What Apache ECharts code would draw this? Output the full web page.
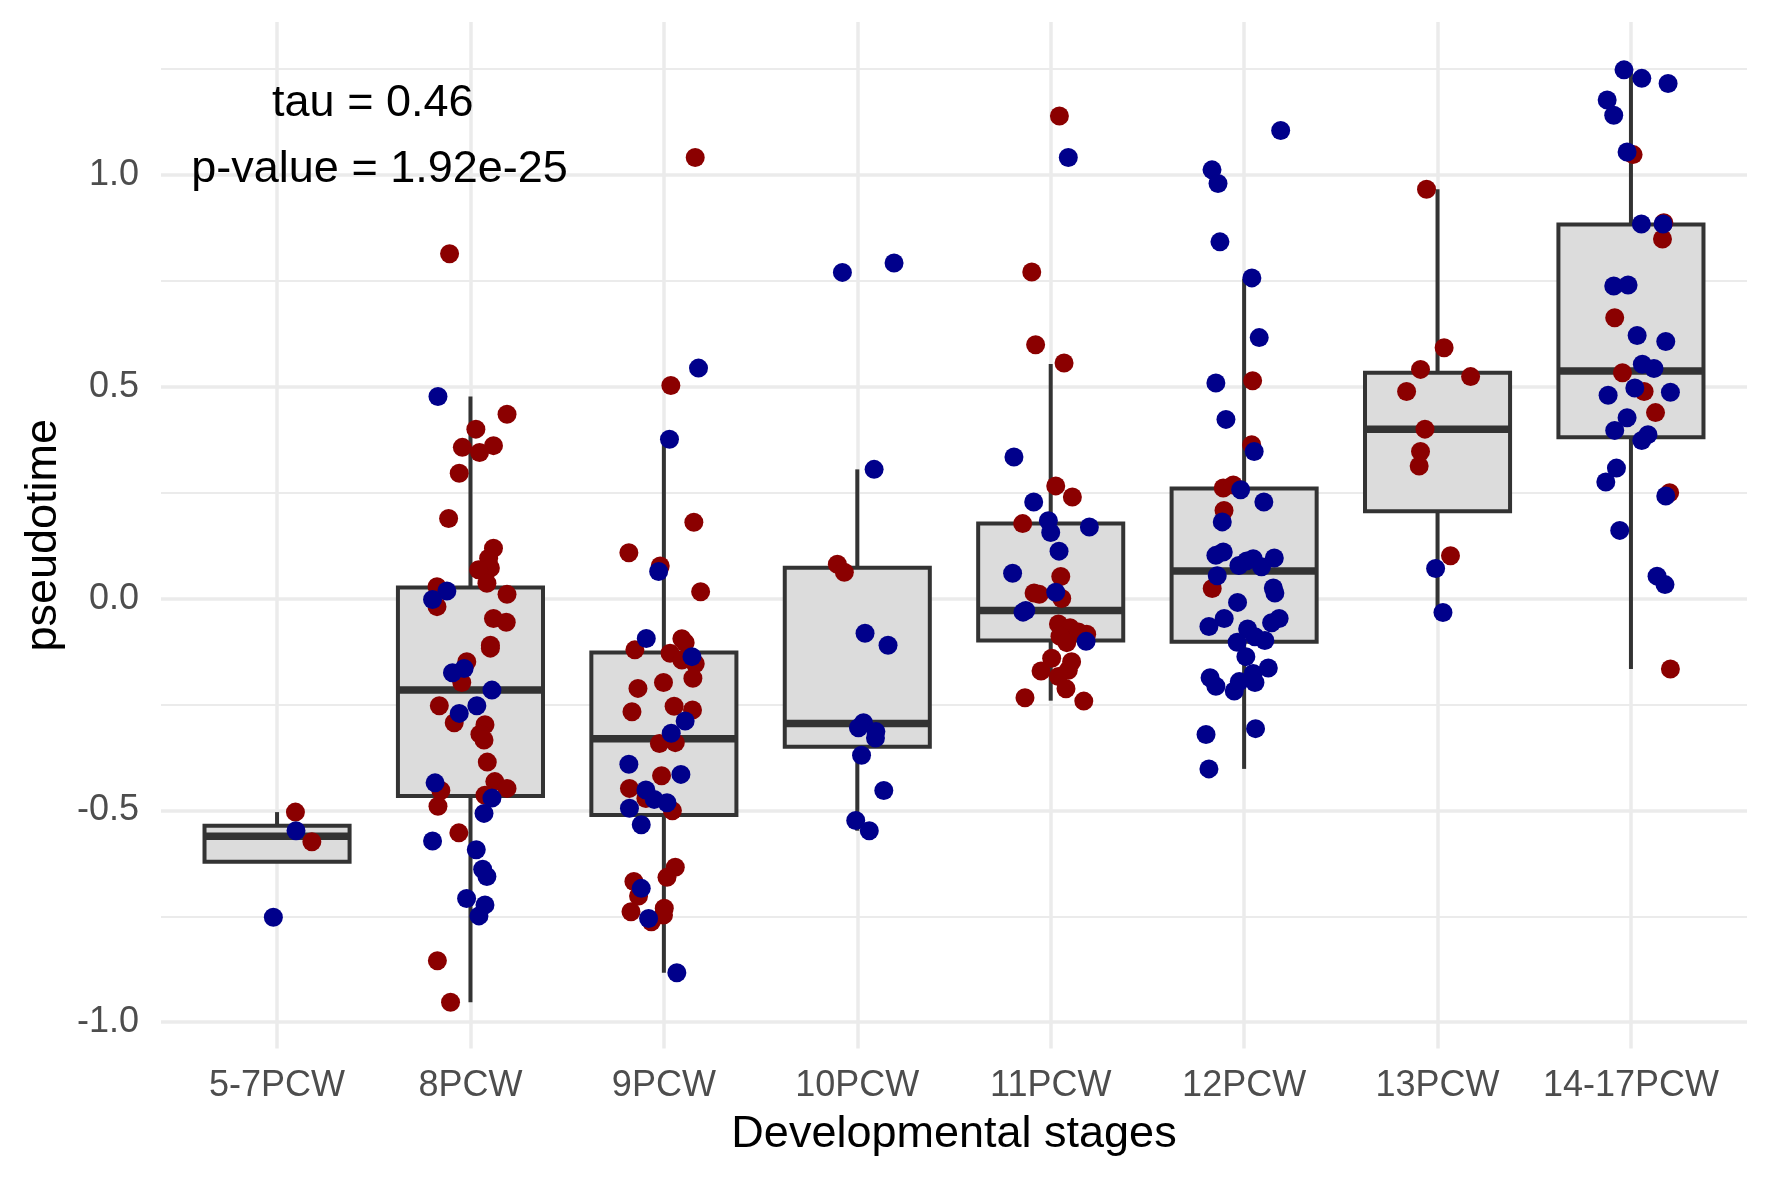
<!DOCTYPE html>
<html>
<head>
<meta charset="utf-8">
<script src="https://cdn.jsdelivr.net/npm/echarts@6/dist/echarts.min.js"></script>
<style>
  html, body { margin: 0; padding: 0; background: #fff; }
  #chart { width: 1771px; height: 1181px; }
</style>
</head>
<body>
<div id="chart"></div>
<script>
// stages on the x axis
const categories = ['5-7PCW', '8PCW', '9PCW', '10PCW', '11PCW', '12PCW', '13PCW', '14-17PCW'];

// box stats
const whiskerLow = [-0.621, -0.953, -0.883, -0.548, -0.241, -0.402, -0.033, -0.166];
const boxQ1 = [-0.621, -0.466, -0.511, -0.350, -0.099, -0.102, 0.206, 0.381];
const boxMedian = [-0.561, -0.216, -0.331, -0.295, -0.028, 0.065, 0.400, 0.537];
const boxQ3 = [-0.536, 0.026, -0.127, 0.073, 0.177, 0.260, 0.533, 0.883];
const whiskerHigh = [-0.504, 0.477, 0.376, 0.305, 0.554, 0.755, 0.966, 1.245];

// jittered points: [stage index + jitter, pseudotime]
const redPoints = [
  [0.095, -0.504], [0.18, -0.574],
  [0.892, 0.814], [1.189, 0.435], [1.028, 0.400], [0.958, 0.357], [1.047, 0.345], [1.119, 0.361],
  [0.942, 0.296], [0.887, 0.189], [1.119, 0.119], [1.094, 0.095], [1.103, 0.072], [1.042, 0.068],
  [1.085, 0.036], [0.827, 0.028], [1.189, 0.010], [0.827, -0.019], [1.119, -0.047], [1.185, -0.056],
  [1.103, -0.110], [1.103, -0.117], [0.981, -0.149], [0.955, -0.198], [0.839, -0.253], [0.916, -0.293],
  [1.075, -0.298], [1.049, -0.320], [1.07, -0.334], [1.087, -0.386], [0.847, -0.453], [1.126, -0.432],
  [1.189, -0.448], [1.075, -0.464], [0.832, -0.490], [0.94, -0.553], [0.829, -0.855], [0.897, -0.953],
  [2.162, 1.041], [2.036, 0.503], [2.155, 0.180], [1.819, 0.108], [1.981, 0.077], [2.19, 0.016],
  [1.85, -0.121], [2.093, -0.095], [2.11, -0.104], [2.032, -0.129], [2.093, -0.145], [2.162, -0.154],
  [2.15, -0.188], [1.998, -0.198], [1.866, -0.212], [2.053, -0.254], [1.835, -0.267], [2.148, -0.263],
  [1.977, -0.342], [2.059, -0.340], [1.988, -0.418], [1.822, -0.448], [1.907, -0.472], [2.044, -0.501],
  [2.059, -0.634], [2.016, -0.658], [1.845, -0.668], [1.869, -0.702], [1.83, -0.739], [2.002, -0.731],
  [1.998, -0.747], [1.935, -0.763],
  [2.897, 0.081], [2.933, 0.062],
  [4.045, 1.139], [3.902, 0.771], [3.922, 0.599], [4.069, 0.556], [4.026, 0.266], [4.112, 0.240],
  [3.855, 0.177], [4.052, 0.052], [3.914, 0.013], [3.941, 0.010], [4.057, 0.0], [4.04, -0.060],
  [4.1, -0.069], [4.143, -0.079], [4.186, -0.084], [4.048, -0.089], [4.083, -0.104], [4.005, -0.141],
  [4.108, -0.149], [3.95, -0.171], [4.091, -0.169], [4.04, -0.184], [4.079, -0.213], [3.867, -0.234],
  [4.171, -0.242],
  [5.044, 0.514], [5.039, 0.363], [4.892, 0.261], [4.944, 0.268], [4.896, 0.208], [4.835, 0.024],
  [5.943, 0.966], [6.034, 0.592], [5.912, 0.541], [6.171, 0.524], [5.84, 0.489], [5.935, 0.400],
  [5.912, 0.347], [5.905, 0.313], [6.067, 0.101],
  [7.011, 1.048], [7.17, 0.887], [7.163, 0.849], [6.916, 0.663], [6.956, 0.533], [7.068, 0.489],
  [7.127, 0.439], [7.2, 0.250], [7.204, -0.166]
];

const bluePoints = [
  [0.098, -0.548], [-0.019, -0.752],
  [0.832, 0.477], [0.878, 0.018], [0.804, -0.002], [0.907, -0.175], [0.967, -0.165], [1.111, -0.216],
  [1.033, -0.253], [0.942, -0.271], [0.817, -0.435], [1.111, -0.471], [1.07, -0.507], [0.804, -0.572],
  [1.03, -0.593], [1.063, -0.639], [1.085, -0.656], [0.98, -0.708], [1.075, -0.723], [1.044, -0.749],
  [2.179, 0.544], [2.029, 0.376], [1.973, 0.064], [1.909, -0.094], [2.145, -0.137], [2.11, -0.289],
  [2.038, -0.318], [1.819, -0.391], [2.088, -0.415], [1.907, -0.452], [1.95, -0.474], [2.016, -0.482],
  [1.822, -0.495], [1.883, -0.534], [1.883, -0.684], [1.921, -0.755], [2.067, -0.883],
  [2.923, 0.770], [3.19, 0.792], [3.087, 0.305], [3.04, -0.082], [3.159, -0.110], [3.032, -0.293],
  [3.006, -0.305], [3.096, -0.314], [3.094, -0.329], [3.022, -0.370], [3.137, -0.453], [2.992, -0.524],
  [3.062, -0.548],
  [4.091, 1.041], [3.81, 0.334], [3.912, 0.228], [3.988, 0.184], [4.0, 0.156], [4.2, 0.169],
  [4.043, 0.112], [3.803, 0.060], [4.026, 0.015], [3.871, -0.028], [3.857, -0.032], [4.183, -0.101],
  [5.189, 1.105], [4.834, 1.012], [4.865, 0.980], [4.875, 0.842], [5.04, 0.757], [5.078, 0.616],
  [4.854, 0.509], [4.906, 0.423], [5.052, 0.347], [4.982, 0.257], [5.102, 0.228], [4.887, 0.181],
  [4.892, 0.110], [4.854, 0.102], [4.973, 0.078], [5.013, 0.089], [5.047, 0.094], [5.09, 0.075],
  [5.156, 0.096], [4.861, 0.054], [5.151, 0.025], [5.159, 0.013], [4.966, -0.009], [4.897, -0.047],
  [4.818, -0.066], [5.142, -0.057], [5.181, -0.047], [5.018, -0.072], [4.964, -0.103], [5.056, -0.090],
  [5.107, -0.099], [5.009, -0.137], [5.047, -0.177], [5.125, -0.164], [4.824, -0.187], [4.854, -0.207],
  [4.949, -0.218], [4.975, -0.196], [5.056, -0.198], [5.059, -0.307], [4.803, -0.321], [4.818, -0.402],
  [5.99, 0.071], [6.028, -0.033],
  [6.964, 1.248], [7.056, 1.228], [7.192, 1.216], [6.877, 1.177], [6.911, 1.141], [6.98, 1.054],
  [7.054, 0.884], [7.166, 0.884], [6.911, 0.738], [6.985, 0.740], [7.032, 0.621], [7.18, 0.607],
  [7.059, 0.553], [7.119, 0.543], [7.02, 0.497], [7.204, 0.487], [6.882, 0.480], [6.98, 0.427],
  [6.916, 0.397], [7.088, 0.387], [7.056, 0.373], [6.925, 0.308], [6.87, 0.275], [7.18, 0.242],
  [6.942, 0.161], [7.135, 0.053], [7.176, 0.033]
];

// axis ticks
const yMajorTicks = [-1, -0.5, 0, 0.5, 1];
const yMinorTicks = [-0.75, -0.25, 0.25, 0.75, 1.25];

const font = 'Liberation Sans, Arial, Helvetica, sans-serif';
const xTicks = categories.map((c, i) => i);
const boxData = categories.map((c, i) => [i, whiskerLow[i], boxQ1[i], boxMedian[i], boxQ3[i], whiskerHigh[i]]);

function renderBox(params, api) {
  const i = api.value(0);
  const half = 0.375;
  const low = api.coord([i, api.value(1)]);
  const q1 = api.coord([i, api.value(2)]);
  const med = api.coord([i, api.value(3)]);
  const q3 = api.coord([i, api.value(4)]);
  const high = api.coord([i, api.value(5)]);
  const xl = api.coord([i - half, 0])[0];
  const xr = api.coord([i + half, 0])[0];
  const lineStyle = { stroke: '#333333', lineWidth: 4, fill: null };
  return {
    type: 'group',
    children: [
      { type: 'line', shape: { x1: low[0], y1: low[1], x2: q1[0], y2: q1[1] }, style: lineStyle },
      { type: 'line', shape: { x1: q3[0], y1: q3[1], x2: high[0], y2: high[1] }, style: lineStyle },
      {
        type: 'rect',
        shape: { x: xl, y: q3[1], width: xr - xl, height: q1[1] - q3[1] },
        style: { fill: '#DCDCDC', stroke: '#333333', lineWidth: 4 }
      },
      { type: 'line', shape: { x1: xl, y1: med[1], x2: xr, y2: med[1] }, style: { stroke: '#333333', lineWidth: 7.5, fill: null } }
    ]
  };
}

const chart = echarts.init(document.getElementById('chart'));

const option = {
  backgroundColor: '#fff',
  animation: false,
  textStyle: { fontFamily: font },
  grid: { left: 161, right: 24, top: 22, bottom: 132.5, containLabel: false },
  xAxis: {
    type: 'value',
    min: -0.6,
    max: 7.6,
    axisLine: { show: false },
    axisTick: { show: false, customValues: xTicks },
    axisLabel: {
      customValues: xTicks,
      formatter: v => categories[Math.round(v)],
      fontSize: 36,
      color: '#4D4D4D',
      margin: 20,
      fontFamily: font
    },
    splitLine: { show: true, lineStyle: { color: '#EBEBEB', width: 3.5 } },
    name: 'Developmental stages',
    nameLocation: 'middle',
    nameGap: 64,
    nameTextStyle: { fontSize: 45, color: '#000', fontFamily: font }
  },
  yAxis: [
    {
      type: 'value',
      min: -1.062,
      max: 1.361,
      axisLine: { show: false },
      axisTick: { show: false, customValues: yMajorTicks },
      axisLabel: {
        customValues: yMajorTicks,
        formatter: v => v.toFixed(1),
        fontSize: 36,
        color: '#4D4D4D',
        margin: 22,
        fontFamily: font
      },
      splitLine: { show: true, lineStyle: { color: '#EBEBEB', width: 3.5 } },
      name: 'pseudotime',
      nameLocation: 'middle',
      nameGap: 90,
      nameTextStyle: { fontSize: 45, color: '#000', fontFamily: font }
    },
    {
      type: 'value',
      position: 'left',
      min: -1.062,
      max: 1.361,
      axisLine: { show: false },
      axisTick: { show: false, customValues: yMinorTicks },
      axisLabel: { show: false, customValues: yMinorTicks },
      splitLine: { show: true, lineStyle: { color: '#EBEBEB', width: 2 } }
    }
  ],
  series: [
    {
      type: 'custom',
      renderItem: renderBox,
      encode: { x: 0, y: [1, 2, 3, 4, 5] },
      data: boxData,
      silent: true,
      z: 2
    },
    {
      type: 'scatter',
      data: redPoints,
      symbolSize: 19,
      itemStyle: { color: '#8B0000', opacity: 1 },
      z: 3
    },
    {
      type: 'scatter',
      data: bluePoints,
      symbolSize: 19,
      itemStyle: { color: '#00008B', opacity: 1 },
      z: 4
    },
    {
      type: 'scatter',
      silent: true,
      symbolSize: 1,
      itemStyle: { color: 'rgba(0,0,0,0)' },
      label: {
        show: true,
        position: 'inside',
        formatter: p => p.data[2],
        fontSize: 45,
        color: '#000000',
        textBorderWidth: 0,
        opacity: 1,
        fontFamily: font
      },
      data: [
        [0.495, 1.169, 'tau = 0.46'],
        [0.53, 1.013, 'p-value = 1.92e-25']
      ],
      z: 5
    }
  ]
};

chart.setOption(option);
</script>
</body>
</html>
